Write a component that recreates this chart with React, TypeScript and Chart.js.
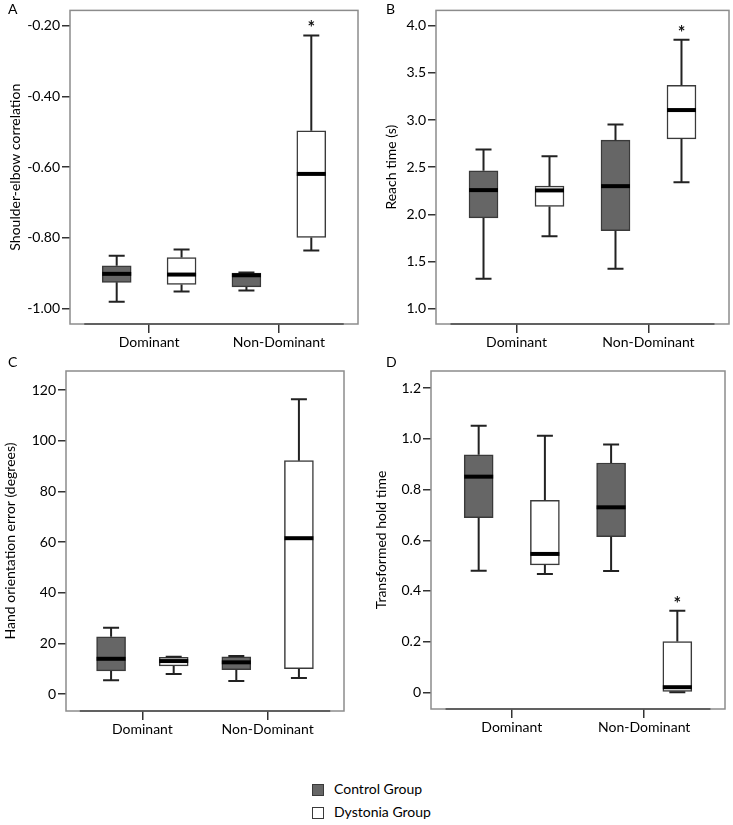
import React, { useEffect, useRef } from "react";
import { Chart, registerables } from "chart.js";
Chart.register(...registerables);

const FONT = "Lato, 'Open Sans', sans-serif";
const TEXT = "#000";

const categories = ["Dominant", "Non-Dominant"];
const groupNames = ["Control Group", "Dystonia Group"];
const groupFills = ["#666666", "#ffffff"];
const groupOffsets = [-0.25, 0.25];

// five-number summaries: [lower whisker, Q1, median, Q3, upper whisker], per category (Dominant, Non-Dominant)
const corrControl = [
  [-0.981, -0.926, -0.902, -0.879, -0.851],
  [-0.949, -0.939, -0.906, -0.9, -0.898],
];
const corrDystonia = [
  [-0.952, -0.932, -0.904, -0.856, -0.833],
  [-0.836, -0.799, -0.619, -0.497, -0.227],
];
const corrTicks = [-1.0, -0.8, -0.6, -0.4, -0.2];
const corrStars = [[false, false], [false, true]];

const reachControl = [
  [1.318, 1.962, 2.257, 2.462, 2.687],
  [1.422, 1.827, 2.299, 2.787, 2.954],
];
const reachDystonia = [
  [1.768, 2.084, 2.254, 2.299, 2.617],
  [2.34, 2.801, 3.106, 3.369, 3.851],
];
const reachTicks = [1.0, 1.5, 2.0, 2.5, 3.0, 3.5, 4.0];
const reachStars = [[false, false], [false, true]];

const handControl = [
  [5.4, 9.1, 13.9, 22.6, 26.2],
  [5.1, 9.6, 12.5, 14.7, 15.0],
];
const handDystonia = [
  [7.9, 11.1, 13.0, 14.5, 14.7],
  [6.3, 10.0, 61.5, 92.1, 116.3],
];
const handTicks = [0, 20, 40, 60, 80, 100, 120];
const handStars = [[false, false], [false, false]];

const holdControl = [
  [0.48, 0.689, 0.851, 0.937, 1.052],
  [0.479, 0.614, 0.73, 0.905, 0.978],
];
const holdDystonia = [
  [0.467, 0.503, 0.546, 0.758, 1.012],
  [0.0, 0.0, 0.02, 0.2, 0.322],
];
const holdTicks = [0, 0.2, 0.4, 0.6, 0.8, 1.0, 1.2];
const holdStars = [[false, false], [false, true]];

type Panel = {
  letter: string;
  title: string;
  control: number[][];
  dystonia: number[][];
  stars: boolean[][];
  ticks: number[];
  min: number;
  max: number;
  fmt: (v: number) => string;
  left: number;
  top: number;
  w: number;
  h: number;
  area: { left: number; right: number; top: number; bottom: number };
  titleX: number;
  letterX: number;
  letterY: number;
};

const panels: Panel[] = [
  {
    letter: "A", title: "Shoulder-elbow correlation",
    control: corrControl, dystonia: corrDystonia, stars: corrStars, ticks: corrTicks,
    min: -1.044, max: -0.156, fmt: (v) => v.toFixed(2),
    left: 0, top: 0, w: 366, h: 360,
    area: { left: 70, right: 358, top: 4, bottom: 324 }, titleX: 15, letterX: 8, letterY: 0,
  },
  {
    letter: "B", title: "Reach time (s)",
    control: reachControl, dystonia: reachDystonia, stars: reachStars, ticks: reachTicks,
    min: 0.837, max: 4.163, fmt: (v) => v.toFixed(1),
    left: 366, top: 0, w: 367, h: 360,
    area: { left: 70, right: 363, top: 4, bottom: 324 }, titleX: 25, letterX: 386, letterY: 0,
  },
  {
    letter: "C", title: "Hand orientation error (degrees)",
    control: handControl, dystonia: handDystonia, stars: handStars, ticks: handTicks,
    min: -6.71, max: 127.5, fmt: (v) => String(Math.round(v)),
    left: 0, top: 360, w: 366, h: 380,
    area: { left: 66, right: 344, top: 11, bottom: 351 }, titleX: 10, letterX: 8, letterY: 353,
  },
  {
    letter: "D", title: "Transformed hold time",
    control: holdControl, dystonia: holdDystonia, stars: holdStars, ticks: holdTicks,
    min: -0.066, max: 1.268, fmt: (v) => (Math.abs(v) < 1e-9 ? "0" : v.toFixed(1)),
    left: 366, top: 360, w: 367, h: 380,
    area: { left: 65, right: 359, top: 11, bottom: 349 }, titleX: 15, letterX: 386, letterY: 353,
  },
];

function framePlugin() {
  return {
    id: "frame",
    afterDraw(chart: any) {
      const { ctx, chartArea: a, scales } = chart;
      ctx.save();
      ctx.strokeStyle = "#8c8c8c";
      ctx.lineWidth = 1.5;
      ctx.strokeRect(a.left, a.top, a.right - a.left, a.bottom - a.top);
      ctx.strokeStyle = "#4a4a4a";
      ctx.beginPath();
      ctx.moveTo(scales.x.getPixelForValue(-0.5), a.bottom);
      ctx.lineTo(scales.x.getPixelForValue(1.5), a.bottom);
      ctx.stroke();
      ctx.restore();
    },
  };
}

function boxPlugin(p: Panel) {
  return {
    id: "boxParts",
    afterDatasetsDraw(chart: any) {
      const { ctx } = chart;
      const y = chart.scales.y;
      const summaries = [p.control, p.dystonia];
      ctx.save();
      summaries.forEach((s, g) => {
        const meta = chart.getDatasetMeta(g);
        s.forEach((v, i) => {
          const el = meta.data[i];
          const cx = el.x;
          const half = el.width / 2;
          const yMin = y.getPixelForValue(v[0]);
          const yQ1 = y.getPixelForValue(v[1]);
          const yMed = y.getPixelForValue(v[2]);
          const yQ3 = y.getPixelForValue(v[3]);
          const yMax = y.getPixelForValue(v[4]);
          ctx.strokeStyle = "#222";
          ctx.lineWidth = 2;
          ctx.beginPath();
          ctx.moveTo(cx, yQ3);
          ctx.lineTo(cx, yMax);
          ctx.moveTo(cx, yQ1);
          ctx.lineTo(cx, yMin);
          ctx.moveTo(cx - 8, yMax);
          ctx.lineTo(cx + 8, yMax);
          ctx.moveTo(cx - 8, yMin);
          ctx.lineTo(cx + 8, yMin);
          ctx.stroke();
          ctx.strokeStyle = "#000";
          ctx.lineWidth = 4;
          ctx.beginPath();
          ctx.moveTo(cx - half, yMed);
          ctx.lineTo(cx + half, yMed);
          ctx.stroke();
          if (p.stars[g][i]) {
            ctx.fillStyle = "#111";
            ctx.font = `bold 18px ${FONT}`;
            ctx.textAlign = "center";
            ctx.textBaseline = "alphabetic";
            ctx.fillText("*", cx, yMax - 1);
          }
        });
      });
      ctx.restore();
    },
  };
}

function BoxPanel({ p }: { p: Panel }) {
  const ref = useRef<HTMLCanvasElement>(null);
  useEffect(() => {
    let chart: Chart | null = null;
    let cancelled = false;
    const make = () => {
      if (cancelled || !ref.current) return;
      const padLeft = p.titleX - 8.4;
      const summaries = [p.control, p.dystonia];
      const datasets = summaries.map((s, g) => ({
        label: groupNames[g],
        data: categories.map((_, i) => ({ x: i + groupOffsets[g], y: [s[i][1], s[i][3]] })),
        backgroundColor: groupFills[g],
        borderColor: "#3a3a3a",
        borderWidth: 1.5,
        borderSkipped: false,
        barThickness: 29,
        grouped: false,
      }));
      chart = new Chart(ref.current, {
        type: "bar",
        data: { datasets } as any,
        options: {
          animation: false,
          responsive: false,
          maintainAspectRatio: false,
          events: [],
          layout: { padding: { left: padLeft, top: p.area.top, right: p.w - p.area.right, bottom: 0 } },
          plugins: { legend: { display: false }, tooltip: { enabled: false } },
          scales: {
            x: {
              type: "linear",
              min: -0.61,
              max: 1.61,
              offset: false,
              border: { display: false },
              grid: { offset: false, drawOnChartArea: false, drawTicks: true, tickLength: 9, color: "#333", lineWidth: 1.5 },
              afterBuildTicks: (s: any) => {
                s.ticks = categories.map((_, i) => ({ value: i }));
              },
              afterFit: (s: any) => {
                s.height = p.h - p.area.bottom;
              },
              ticks: {
                autoSkip: false,
                maxRotation: 0,
                padding: 1,
                color: TEXT,
                font: { family: FONT, size: 14 },
                callback: (v: any) => categories[Math.round(Number(v))] ?? "",
              },
            },
            y: {
              type: "linear",
              min: p.min,
              max: p.max,
              border: { display: false },
              grid: { drawOnChartArea: false, drawTicks: true, tickLength: 8, color: "#333", lineWidth: 1.5 },
              afterBuildTicks: (s: any) => {
                s.ticks = p.ticks.map((v) => ({ value: v }));
              },
              afterFit: (s: any) => {
                s.width = p.area.left - padLeft;
              },
              title: { display: true, text: p.title, color: TEXT, padding: 0, font: { family: FONT, size: 14 } },
              ticks: {
                padding: 2,
                color: TEXT,
                font: { family: FONT, size: 14 },
                callback: (v: any) => p.fmt(Number(v)),
              },
            },
          },
        } as any,
        plugins: [framePlugin(), boxPlugin(p)],
      });
    };
    if ((document as any).fonts && (document as any).fonts.load) {
      (document as any).fonts.load(`14px Lato`).then(make, make);
    } else {
      make();
    }
    return () => {
      cancelled = true;
      if (chart) chart.destroy();
    };
  }, []);
  return (
    <canvas
      ref={ref}
      width={p.w}
      height={p.h}
      style={{ position: "absolute", left: p.left, top: p.top, width: p.w, height: p.h }}
    />
  );
}

export default function App() {
  const textStyle: React.CSSProperties = {
    position: "absolute",
    fontFamily: FONT,
    fontSize: 14,
    color: TEXT,
    lineHeight: "18px",
    whiteSpace: "nowrap",
  };
  return (
    <div style={{ position: "absolute", left: 0, top: 0, width: 733, height: 825, background: "#fff", overflow: "hidden" }}>
      {panels.map((p) => (
        <BoxPanel key={p.letter} p={p} />
      ))}
      {panels.map((p) => (
        <div key={"l" + p.letter} style={{ ...textStyle, left: p.letterX, top: p.letterY }}>
          {p.letter}
        </div>
      ))}
      {groupNames.map((name, g) => (
        <React.Fragment key={name}>
          <div
            style={{
              position: "absolute",
              left: 312,
              top: 784 + g * 23,
              width: 10,
              height: 10,
              background: groupFills[g],
              border: "1px solid #3a3a3a",
            }}
          />
          <div style={{ ...textStyle, left: 334, top: 780 + g * 23 }}>{name}</div>
        </React.Fragment>
      ))}
    </div>
  );
}
